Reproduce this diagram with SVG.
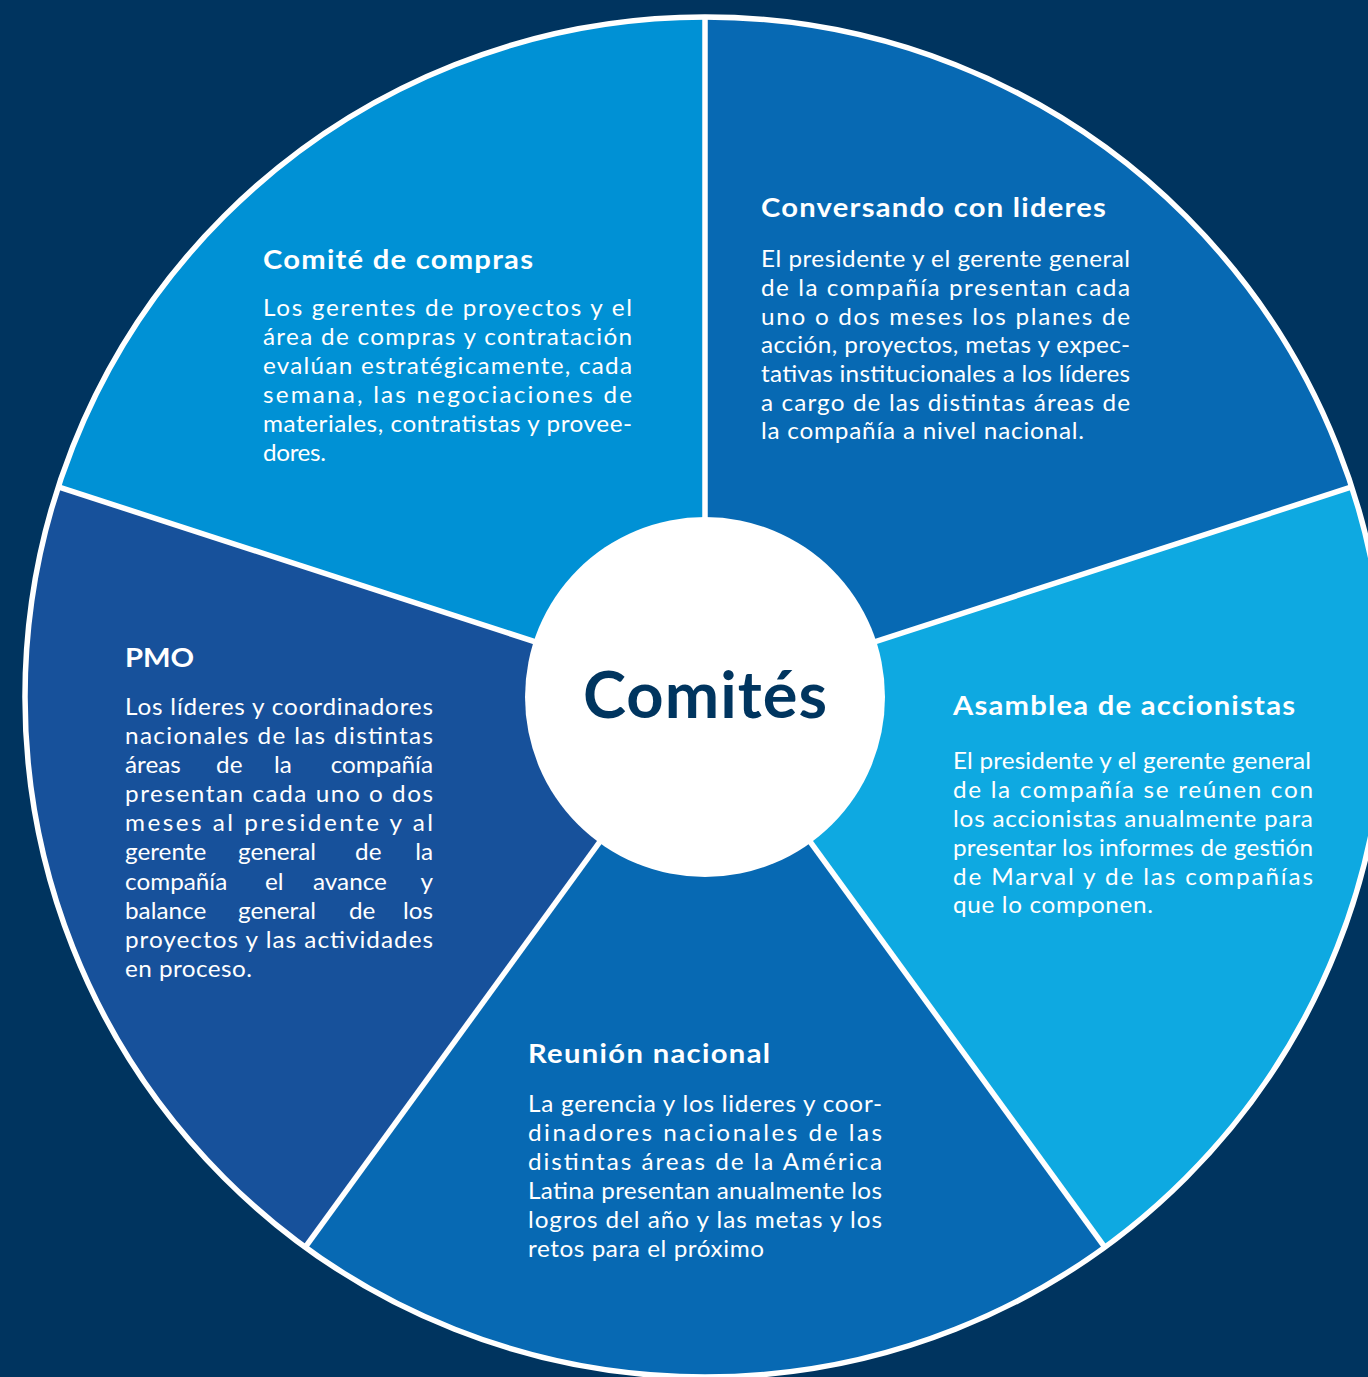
<svg xmlns="http://www.w3.org/2000/svg" width="1368" height="1377" viewBox="0 0 1368 1377">
<style>
.t{font-family:Lato,"Open Sans","DejaVu Sans",sans-serif;font-weight:700;font-size:27px;fill:#ffffff}
.b{font-family:Lato,"Open Sans","DejaVu Sans",sans-serif;font-weight:400;font-size:22.5px;fill:#ffffff}
.c{font-family:Lato,"Open Sans","DejaVu Sans",sans-serif;font-weight:700;font-size:65px;fill:#00355f}
.div{stroke:#ffffff;stroke-width:5.5;fill:none}
</style>
<rect x="0" y="0" width="1368" height="1377" fill="#00345f"/>
<g id="segments">
<path id="seg-conversando" d="M705,697 L705,17 A680,680 0 0 1 1351.72,486.87 Z" fill="#0769b3"/>
<path id="seg-asamblea" d="M705,697 L1351.72,486.87 A680,680 0 0 1 1104.7,1247.13 Z" fill="#0ea9e1"/>
<path id="seg-reunion" d="M705,697 L1104.7,1247.13 A680,680 0 0 1 305.3,1247.13 Z" fill="#0769b3"/>
<path id="seg-pmo" d="M705,697 L305.3,1247.13 A680,680 0 0 1 58.28,486.87 Z" fill="#17519b"/>
<path id="seg-compras" d="M705,697 L58.28,486.87 A680,680 0 0 1 705,17 Z" fill="#0091d5"/>
</g>
<g id="connectors">
<line class="div" x1="705" y1="697" x2="705" y2="17"/>
<line class="div" x1="705" y1="697" x2="1351.72" y2="486.87"/>
<line class="div" x1="705" y1="697" x2="1104.7" y2="1247.13"/>
<line class="div" x1="705" y1="697" x2="305.3" y2="1247.13"/>
<line class="div" x1="705" y1="697" x2="58.28" y2="486.87"/>
<circle class="div" cx="705" cy="697" r="680"/>
</g>
<g id="center">
<circle cx="705" cy="697" r="180" fill="#ffffff"/>
<text class="c" x="583" y="718" textLength="244" lengthAdjust="spacing">Comités</text>
</g>
<g id="comite-compras" transform="translate(263,0) scale(1.08,1)">
<text class="t" x="0" y="269" textLength="250" lengthAdjust="spacing">Comité de compras</text>
<text class="b" x="0" y="316" textLength="341.7" lengthAdjust="spacing">Los gerentes de proyectos y el</text>
<text class="b" x="0" y="345" textLength="341.7" lengthAdjust="spacing">área de compras y contratación</text>
<text class="b" x="0" y="374" textLength="341.7" lengthAdjust="spacing">evalúan estratégicamente, cada</text>
<text class="b" x="0" y="403" textLength="341.7" lengthAdjust="spacing">semana, las negociaciones de</text>
<text class="b" x="0" y="432" textLength="341.7" lengthAdjust="spacing">materiales, contratistas y provee-</text>
<text class="b" x="0" y="461.5" textLength="58.3" lengthAdjust="spacing">dores.</text>
</g>
<g id="conversando-lideres" transform="translate(761,0) scale(1.08,1)">
<text class="t" x="0" y="217" textLength="319.4" lengthAdjust="spacing">Conversando con lideres</text>
<text class="b" x="0" y="267" textLength="341.7" lengthAdjust="spacing">El presidente y el gerente general</text>
<text class="b" x="0" y="296" textLength="341.7" lengthAdjust="spacing">de la compañía presentan  cada</text>
<text class="b" x="0" y="325" textLength="341.7" lengthAdjust="spacing">uno o dos meses los planes de</text>
<text class="b" x="0" y="353.5" textLength="341.7" lengthAdjust="spacing">acción, proyectos, metas y expec-</text>
<text class="b" x="0" y="382" textLength="341.7" lengthAdjust="spacing">tativas institucionales a los líderes</text>
<text class="b" x="0" y="411" textLength="341.7" lengthAdjust="spacing">a cargo de las distintas áreas de</text>
<text class="b" x="0" y="439.5" textLength="299.1" lengthAdjust="spacing">la compañía a nivel nacional.</text>
</g>
<g id="asamblea-accionistas" transform="translate(953,0) scale(1.08,1)">
<text class="t" x="0" y="715" textLength="316.7" lengthAdjust="spacing">Asamblea de accionistas</text>
<text class="b" x="0" y="769" textLength="331.5" lengthAdjust="spacing">El presidente y el gerente general</text>
<text class="b" x="0" y="798" textLength="333.3" lengthAdjust="spacing">de la compañía se reúnen con</text>
<text class="b" x="0" y="827" textLength="333.3" lengthAdjust="spacing">los accionistas anualmente para</text>
<text class="b" x="0" y="856" textLength="333.3" lengthAdjust="spacing">presentar los informes de gestión</text>
<text class="b" x="0" y="885" textLength="333.3" lengthAdjust="spacing">de Marval y de las compañías</text>
<text class="b" x="0" y="913" textLength="185.2" lengthAdjust="spacing">que lo componen.</text>
</g>
<g id="pmo" transform="translate(125,0) scale(1.08,1)">
<text class="t" x="0" y="667">PMO</text>
<text class="b" x="0" y="715" textLength="285.2" lengthAdjust="spacing">Los líderes y coordinadores</text>
<text class="b" x="0" y="744" textLength="285.2" lengthAdjust="spacing">nacionales de las distintas</text>
<text class="b" y="773"><tspan x="0">áreas</tspan><tspan x="84.3">de</tspan><tspan x="138">la</tspan><tspan x="285.2" text-anchor="end">compañía</tspan></text>
<text class="b" x="0" y="802" textLength="285.2" lengthAdjust="spacing">presentan cada uno o dos</text>
<text class="b" x="0" y="831" textLength="285.2" lengthAdjust="spacing">meses al presidente y al</text>
<text class="b" y="860"><tspan x="0">gerente</tspan><tspan x="104.6">general</tspan><tspan x="213">de</tspan><tspan x="285.2" text-anchor="end">la</tspan></text>
<text class="b" y="890"><tspan x="0">compañía</tspan><tspan x="129.6">el</tspan><tspan x="174.1">avance</tspan><tspan x="285.2" text-anchor="end">y</tspan></text>
<text class="b" y="919"><tspan x="0">balance</tspan><tspan x="104.6">general</tspan><tspan x="207.4">de</tspan><tspan x="285.2" text-anchor="end">los</tspan></text>
<text class="b" x="0" y="948" textLength="285.2" lengthAdjust="spacing">proyectos y las actividades</text>
<text class="b" x="0" y="977" textLength="117.6" lengthAdjust="spacing">en proceso.</text>
</g>
<g id="reunion-nacional" transform="translate(528,0) scale(1.08,1)">
<text class="t" x="0" y="1063" textLength="224.1" lengthAdjust="spacing">Reunión nacional</text>
<text class="b" x="0" y="1112" textLength="327.8" lengthAdjust="spacing">La gerencia y los lideres y coor-</text>
<text class="b" x="0" y="1141" textLength="327.8" lengthAdjust="spacing">dinadores nacionales de las</text>
<text class="b" x="0" y="1170" textLength="327.8" lengthAdjust="spacing">distintas áreas de la América</text>
<text class="b" x="0" y="1199" textLength="327.8" lengthAdjust="spacing">Latina presentan anualmente los</text>
<text class="b" x="0" y="1228" textLength="327.8" lengthAdjust="spacing">logros del año y las metas y los</text>
<text class="b" x="0" y="1257" textLength="218.5" lengthAdjust="spacing">retos para el próximo</text>
</g>
</svg>
